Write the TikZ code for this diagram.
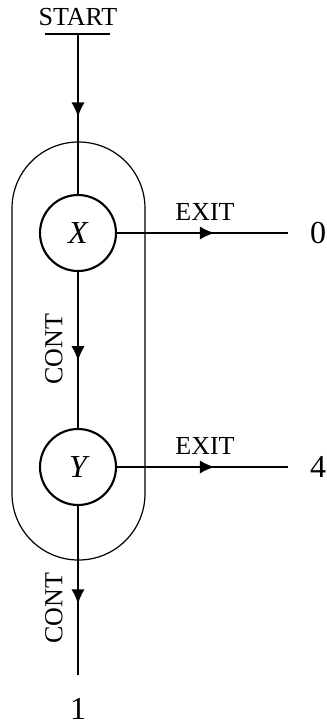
\documentclass[tikz,border=0pt]{standalone}
\usepackage{fontspec}
\setmainfont{Liberation Serif}
\usetikzlibrary{arrows.meta,positioning,decorations.markings}
\tikzset{
  state/.style={draw, circle, line width=1.6pt, minimum size=57pt, inner sep=0pt,
    font=\fontsize{24}{24}\selectfont\itshape},
  flow/.style={line width=1.5pt},
  midarrow/.style={postaction={decorate}, decoration={markings,
    mark=at position #1 with {\arrow{Latex[length=11pt,width=10pt]}}}},
  lbl/.style={font=\fontsize{19.5}{19.5}\selectfont, inner sep=0pt},
  val/.style={font=\fontsize{24}{24}\selectfont, inner sep=0pt}
}

\begin{document}
\begin{tikzpicture}[x=0.75pt,y=-0.75pt]
  \useasboundingbox (0,0) rectangle (326,724);

  % the block round X and Y
  \draw[line width=0.9pt, rounded corners=49.8pt] (12,142) rectangle (145,560);

  \node[state] (X) at (78,233) {X};
  \node[state] (Y) at (78,467) {Y};

  % entry
  \node[lbl, anchor=base] (start) at (78,26) {START};
  \coordinate (barL) at (45,34);
  \coordinate (barR) at (110,34);
  \coordinate (entry) at (78,34);
  \draw[flow] (barL) -- (barR);

  % exits
  \coordinate (out0) at (288,233);
  \coordinate (out4) at (288,467);
  \coordinate (out1) at (78,675);
  \node[val] (v0) at (318,233) {0};
  \node[val] (v4) at (318,467) {4};
  \node[val, anchor=base] (v1) at (78,719) {1};

  \draw[flow, midarrow=0.52] (entry) -- (X);
  \draw[flow, midarrow=0.57] (X) -- (Y);
  \draw[flow, midarrow=0.58] (Y) -- (out1);
  \draw[flow, midarrow=0.57] (X) -- (out0);
  \draw[flow, midarrow=0.57] (Y) -- (out4);

  \node[lbl] (exitX) at (205,212) {EXIT};
  \node[lbl] (exitY) at (205,446) {EXIT};
  \node[lbl, rotate=90] (contX) at (54,349) {CONT};
  \node[lbl, rotate=90] (contY) at (54,608) {CONT};
\end{tikzpicture}
\end{document}
